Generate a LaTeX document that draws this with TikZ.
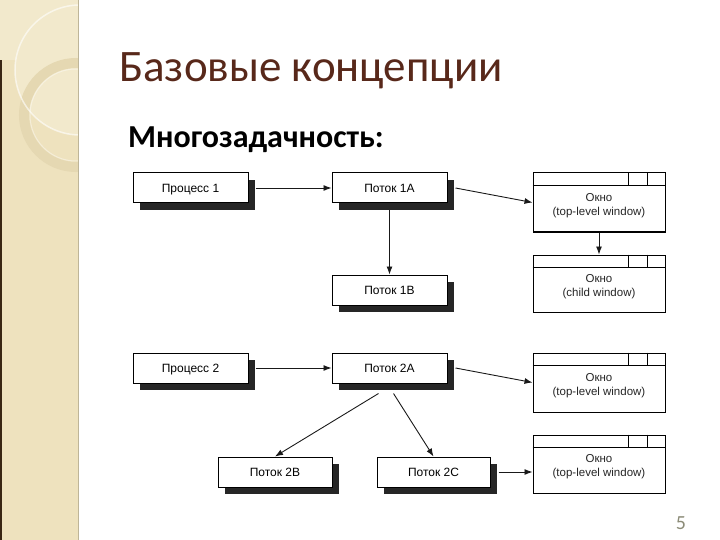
\documentclass[tikz,border=0pt]{standalone}
\usepackage{fontspec}
\setmainfont{Liberation Sans}
\newfontfamily\calib{Carlito}
\usetikzlibrary{arrows.meta}
\definecolor{sidebg}{RGB}{238,226,190}
\definecolor{sidelight}{RGB}{242,233,204}
\definecolor{ringc}{RGB}{229,216,178}
\definecolor{titlebrown}{RGB}{88,40,26}
\definecolor{numgray}{RGB}{140,140,120}
\tikzset{
  procbox/.style={draw=black, line width=1pt, fill=white, minimum width=115pt, minimum height=30pt,
    inner sep=0pt, font=\fontsize{12}{13}\selectfont, text=black, text height=8.5pt, text depth=0pt,
    preaction={fill=black!85, transform canvas={xshift=7pt,yshift=-7pt}}},
  winbox/.style={draw=black, line width=1pt, fill=white, minimum width=132pt, inner sep=0pt},
  wintext/.style={align=center, font=\fontsize{11.5}{14}\selectfont, text=black!85, inner sep=0pt},
  arr/.style={draw=black!90, line width=0.9pt, -{Latex[length=8pt,width=6pt]}},
}
\begin{document}
\begin{tikzpicture}[x=1pt,y=-1pt]
\useasboundingbox (0,0) rectangle (720,540);
% sidebar
\fill[sidebg] (0,0) rectangle (78,540);
\begin{scope}
\clip (0,0) rectangle (78,540);
\fill[sidelight] (0,0) rectangle (78,60);
\fill[sidelight] (80,70) circle (65pt);
\draw[ringc, line width=10pt] (76,115) circle (52pt);
\draw[white, opacity=0.6, line width=1.5pt] (80,70) circle (65pt);
\draw[white, opacity=0.4, line width=1pt] (76,115) circle (46pt);
\end{scope}
\fill[black!70!brown] (0,60) rectangle (2,540);
\draw[black!20!sidebg, line width=0.8pt] (78,0) -- (78,540);
% title
\node[anchor=base west, inner sep=0pt, text=titlebrown, font=\calib\fontsize{45}{48}\selectfont] (title) at (119,82) {Базовые концепции};
\node[anchor=base west, inner sep=0pt, text=black, font=\calib\bfseries\fontsize{32}{36}\selectfont] (sub) at (128,148) {Многозадачность:};
% boxes
\node[procbox] (p1) at (190.5,188) {Процесс 1};
\node[procbox] (t1a) at (389.5,188) {Поток 1A};
\node[procbox] (t1b) at (389.5,290) {Поток 1B};
\node[procbox] (p2) at (190.5,368) {Процесс 2};
\node[procbox] (t2a) at (389.5,368) {Поток 2A};
\node[procbox, minimum width=114pt] (t2b) at (275,472) {Поток 2B};
\node[procbox, minimum width=113pt] (t2c) at (433.5,472) {Поток 2C};
% windows
\foreach \n/\cy/\h/\t in {w1/202.5/59/{(top-level window)}, w2/283.5/57/{(child window)}, w3/382.5/59/{(top-level window)}, w4/464/58/{(top-level window)}}{
  \node[winbox, minimum height=\h pt] (\n) at (599,\cy) {};
  \draw[line width=1pt] ([yshift=-13pt]\n.north west) -- ([yshift=-13pt]\n.north east);
  \draw[line width=1pt] ([xshift=-37pt]\n.north east) -- ([xshift=-37pt,yshift=-13pt]\n.north east);
  \draw[line width=1pt] ([xshift=-18pt]\n.north east) -- ([xshift=-18pt,yshift=-13pt]\n.north east);
  \node[wintext] (\n txt) at ([yshift=-3pt]\n.center) {Окно\\\t};
}
% arrows
\draw[arr] ([xshift=7pt]p1.east) -- (t1a.west);
\draw[arr] ([yshift=-7pt]t1a.south) -- (t1b.north);
\draw[arr] ([xshift=8pt]t1a.east) -- (w1.west);
\draw[arr] (w1.south) -- (w2.north);
\draw[arr] ([xshift=7pt]p2.east) -- (t2a.west);
\draw[arr] ([xshift=8pt]t2a.east) -- (w3.west);
\draw[arr] ([xshift=-11pt,yshift=-10pt]t2a.south) -- (t2b.north);
\draw[arr] ([xshift=4pt,yshift=-10pt]t2a.south) -- (t2c.north);
\draw[arr] ([xshift=8pt]t2c.east) -- (t2c.east -| w4.west);
% page number
\node[anchor=base, inner sep=0pt, text=numgray, font=\calib\fontsize{20}{22}\selectfont] (num) at (681,529) {5};
\end{tikzpicture}
\end{document}
